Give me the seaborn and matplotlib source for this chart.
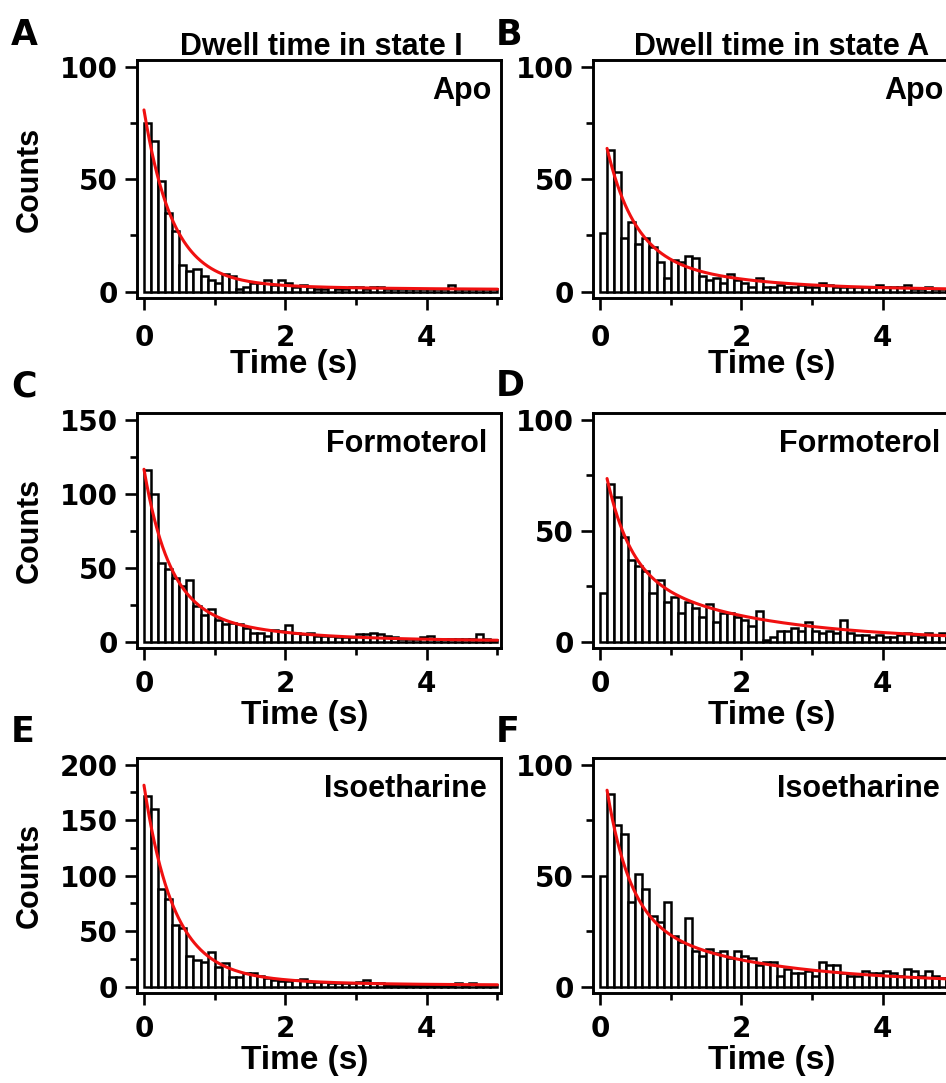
import numpy as np
import pandas as pd
import matplotlib
matplotlib.use("Agg")
import matplotlib.pyplot as plt
from matplotlib.ticker import MultipleLocator
import seaborn as sns

sns.set_theme(style="ticks")
plt.rcParams['font.family'] = ['Liberation Sans', 'DejaVu Sans']
plt.rcParams['font.weight'] = 'bold'
plt.rcParams['axes.labelweight'] = 'bold'

# ---------------- data (counts per 0.1 s bin, 0 - 5 s) ----------------
bin_width = 0.1
t_range = (0.0, 5.0)
bin_centers = np.round(np.arange(0.05, 5.0, bin_width), 3)

counts_I_apo = [75, 67, 49, 35, 27, 12, 9, 10, 7, 5,
                4, 8, 7, 1, 2, 4, 4, 5, 3, 5,
                4, 2, 3, 2, 1, 1, 2, 1, 1, 2,
                2, 1, 2, 2, 1, 1, 1, 1, 1, 1,
                1, 1, 1, 3, 1, 1, 1, 1, 1, 1]
counts_A_apo = [26, 63, 53, 24, 31, 21, 24, 20, 13, 6,
                14, 13, 16, 15, 7, 5, 6, 4, 8, 5,
                4, 2, 6, 2, 2, 3, 2, 2, 3, 2,
                2, 4, 3, 2, 2, 2, 2, 2, 2, 3,
                2, 2, 2, 3, 1, 1, 2, 1, 1, 1]
counts_I_formoterol = [116, 100, 53, 49, 43, 38, 42, 24, 18, 22,
                       15, 12, 13, 12, 9, 6, 6, 4, 8, 7,
                       11, 6, 5, 6, 4, 4, 4, 3, 3, 3,
                       5, 5, 6, 5, 4, 3, 2, 2, 2, 3,
                       4, 2, 2, 2, 2, 2, 2, 5, 2, 1]
counts_A_formoterol = [22, 71, 65, 47, 37, 34, 32, 22, 28, 18,
                       20, 13, 18, 15, 11, 17, 9, 13, 13, 11,
                       10, 7, 14, 1, 2, 5, 5, 6, 5, 9,
                       5, 4, 5, 4, 10, 4, 3, 3, 2, 3,
                       2, 2, 3, 4, 3, 2, 4, 3, 4, 2]
counts_I_isoetharine = [172, 160, 88, 79, 56, 53, 28, 24, 22, 31,
                        18, 21, 9, 9, 12, 12, 10, 8, 6, 5,
                        5, 6, 7, 4, 4, 4, 3, 3, 3, 3,
                        4, 6, 3, 3, 2, 2, 2, 2, 2, 2,
                        2, 2, 2, 2, 3, 2, 3, 2, 2, 2]
counts_A_isoetharine = [50, 87, 73, 69, 38, 51, 44, 32, 29, 38,
                        23, 20, 31, 16, 14, 17, 15, 16, 13, 16,
                        14, 13, 10, 11, 11, 5, 8, 6, 6, 7,
                        5, 11, 10, 10, 6, 5, 5, 7, 6, 6,
                        7, 6, 5, 8, 7, 5, 7, 5, 4, 4]

# exponential fit parameters: (amp1, tau1, amp2, tau2, offset, t_start)
fit_I_apo = (76, 0.40, 4, 2.0, 0.8, 0.0)
fit_A_apo = (45, 0.38, 18, 1.4, 0.7, 0.1)
fit_I_formoterol = (90, 0.35, 26, 1.3, 0.5, 0.0)
fit_A_formoterol = (41, 0.33, 32, 1.8, 0.5, 0.1)
fit_I_isoetharine = (160, 0.40, 20, 1.2, 1.5, 0.0)
fit_A_isoetharine = (57, 0.326, 30, 1.8, 1.5, 0.1)

ligands = ["Apo", "Formoterol", "Isoetharine"]
panel_letters = ["A", "B", "C", "D", "E", "F"]
column_titles = ["Dwell time in state I", "Dwell time in state A"]
x_label = "Time (s)"
y_label = "Counts"
x_ticks = [0, 2, 4]
y_max_I = [100, 150, 200]
y_max_A = [100, 100, 100]

# ---------------- figure ----------------
W, H = 946, 1083
fig = plt.figure(figsize=(W / 100, H / 100), dpi=100)

def px_axes(l, t, w, h):
    return fig.add_axes([l / W, 1 - (t + h) / H, w / W, h / H])

col_left = [136.7, 592.7]
row_top = [60, 413, 758]
row_h = [238, 235, 235]
ax_w = 364.3

red = "#f01010"
tick_font = ['DejaVu Sans']

def exp_fit(params):
    a1, t1, a2, t2, c, t0 = params
    t = np.linspace(t0, 5.0, 400)
    return t, a1 * np.exp(-(t - t0) / t1) + a2 * np.exp(-(t - t0) / t2) + c

data_grid = [[counts_I_apo, counts_A_apo],
             [counts_I_formoterol, counts_A_formoterol],
             [counts_I_isoetharine, counts_A_isoetharine]]
fit_grid = [[fit_I_apo, fit_A_apo],
            [fit_I_formoterol, fit_A_formoterol],
            [fit_I_isoetharine, fit_A_isoetharine]]

label_x = [[0.43, 0.49], [0.46, 0.49], [0.46, 0.49]]
label_y = [-0.215, -0.222, -0.222]
tick_pad = [10, 7, 7]
ligand_x = [[0.975, 0.962], [0.962, 0.953], [0.962, 0.953]]

for r in range(3):
    for c in range(2):
        ax = px_axes(col_left[c], row_top[r], ax_w, row_h[r])
        df = pd.DataFrame({"t": bin_centers, "n": data_grid[r][c]})
        sns.histplot(data=df, x="t", weights="n", binwidth=bin_width,
                     binrange=t_range, ax=ax, color="white",
                     edgecolor="black", linewidth=1.8, alpha=1,
                     stat="count", zorder=2)
        tt, yy = exp_fit(fit_grid[r][c])
        sns.lineplot(x=tt, y=yy, ax=ax, color=red, linewidth=2.2, zorder=3)

        ymax = y_max_I[r] if c == 0 else y_max_A[r]
        ax.set_xlim(-0.103, 5.05)
        ax.set_ylim(-0.028 * ymax, 1.03 * ymax)
        ax.set_xticks(x_ticks)
        ax.xaxis.set_minor_locator(MultipleLocator(1))
        ax.yaxis.set_major_locator(MultipleLocator(50))
        ax.yaxis.set_minor_locator(MultipleLocator(25))
        ax.tick_params(axis="both", which="major", direction="out",
                       length=8.6, width=1.9, labelsize=20, colors="black")
        ax.tick_params(axis="both", which="minor", direction="out",
                       length=4.7, width=1.9, colors="black")
        ax.tick_params(axis="x", which="major", pad=tick_pad[r])
        ax.tick_params(axis="y", which="major", pad=5)
        for lab in ax.get_xticklabels() + ax.get_yticklabels():
            lab.set_family(tick_font)
            lab.set_fontweight("bold")
        for side in ax.spines:
            ax.spines[side].set_visible(True)
            ax.spines[side].set_color("black")
            ax.spines[side].set_linewidth(2.1)
        ax.set_facecolor("white")

        ax.set_xlabel(x_label, fontsize=24, fontweight="bold", color="black")
        ax.xaxis.set_label_coords(label_x[r][c], label_y[r])
        if c == 0:
            ax.set_ylabel(y_label, fontsize=22, fontweight="bold",
                          color="black", va="center")
            ax.yaxis.set_label_coords(-0.294, 0.5)
        else:
            ax.set_ylabel("")

        ax.text(ligand_x[r][c], 0.835, ligands[r], transform=ax.transAxes,
                ha="right", va="baseline", fontsize=22, fontweight="bold",
                color="black")

# panel letters and column titles
letter_pos = [(11, 45), (496, 45), (11, 396), (496, 396), (11, 742), (496, 742)]
for (lx, ly), letter in zip(letter_pos, panel_letters):
    fig.text(lx / W, 1 - ly / H, letter, ha="left", va="baseline",
             fontsize=25, fontweight="bold", color="black",
             family=['DejaVu Sans'])
fig.text(321 / W, 1 - 55 / H, column_titles[0], ha="center",
         va="baseline", fontsize=22, fontweight="bold", color="black")
fig.text(782 / W, 1 - 55 / H, column_titles[1], ha="center",
         va="baseline", fontsize=22, fontweight="bold", color="black")

fig.savefig("out.png", dpi=100, facecolor="white")
